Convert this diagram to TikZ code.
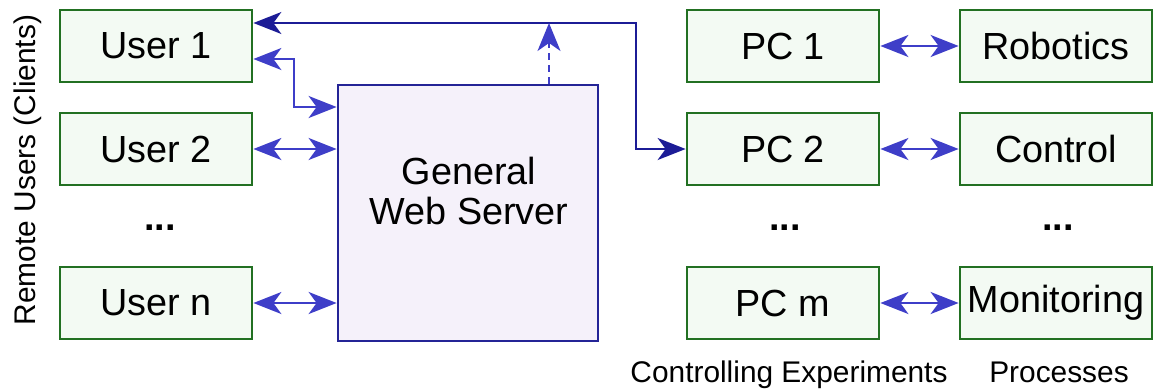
\documentclass[tikz,border=0pt]{standalone}
\usepackage{fontspec}
\setmainfont{Liberation Sans}
\usetikzlibrary{arrows.meta}
\definecolor{boxgreen}{RGB}{34,112,34}
\definecolor{boxfill}{RGB}{243,250,243}
\definecolor{srvblue}{RGB}{36,36,150}
\definecolor{srvfill}{RGB}{245,241,250}
\definecolor{linkblue}{RGB}{62,62,200}
\definecolor{mainblue}{RGB}{28,28,150}
\newcommand{\bxf}{\fontsize{21.5}{22.7}\selectfont}
\newcommand{\lbf}{\fontsize{17}{20}\selectfont}
\tikzset{
  unit/.style={draw=boxgreen,fill=boxfill,line width=1.6pt,minimum width=3.84cm,
               minimum height=1.44cm,inner sep=0pt,font=\bxf},
  server/.style={draw=srvblue,fill=srvfill,line width=1.6pt,minimum width=5.2cm,
                 minimum height=5.12cm,inner sep=0pt},
  dots/.style={font=\bxf\bfseries,anchor=base,inner sep=0pt},
  sidetext/.style={font=\lbf,anchor=base,inner sep=0pt},
  tip/.style={Stealth[length=0.56cm,width=0.44cm,inset=0.16cm]},
  link/.style={linkblue,line width=1.4pt,{Stealth[length=0.56cm,width=0.44cm,inset=0.16cm]}-{Stealth[length=0.56cm,width=0.44cm,inset=0.16cm]}},
  mainlink/.style={mainblue,line width=1.1pt,{Stealth[length=0.56cm,width=0.44cm,inset=0.16cm]}-{Stealth[length=0.56cm,width=0.44cm,inset=0.16cm]}},
  uplink/.style={linkblue,line width=1pt,dash pattern=on 4pt off 2.8pt,-{Stealth[length=0.56cm,width=0.46cm,inset=0.16cm]}}
}

\begin{document}
\begin{tikzpicture}[x=0.02cm,y=-0.02cm]
   \useasboundingbox (0,0) rectangle (1155,390);
   % clients
   \node[unit] (u1) at (156,46) {User 1};
   \node[unit] (u2) at (156,149) {User 2};
   \node[unit] (un) at (156,303) {User n};
   \node[dots] (ud) at (160,230) {...};
   \node[sidetext,rotate=90] (clients) at (35,170) {Remote Users (Clients)};
   % server
   \node[server] (srv) at (468,213) {};
   \node[font=\bxf,align=center,inner sep=0pt] (srvtxt) at (469,191) {General\\Web Server};
   % lab PCs
   \node[unit] (pc1) at (783,46) {PC 1};
   \node[unit] (pc2) at (783,149) {PC 2};
   \node[unit] (pcm) at (783,303) {PC m};
   \node[dots] (pcd) at (785,230) {...};
   % processes
   \node[unit] (rob) at (1056,46) {Robotics};
   \node[unit] (ctl) at (1056,149) {Control};
   \node[unit] (mon) at (1056,303) {Monitoring};
   \node[dots] (prd) at (1058,230) {...};
   \node[sidetext] (ctrl) at (789,382) {Controlling Experiments};
   \node[sidetext] (proc) at (1059,382) {Processes};
   % links
   \coordinate (bend) at (636,23);
   \coordinate (tap) at (549,23);
   \coordinate (k1) at (294,59);
   \coordinate (k2) at (294,107);
   \draw[mainlink] (bend -| u1.east) -- (bend) |- (pc2.west);
   \draw[uplink] (srv.north -| tap) -- (tap);
   \draw[link] (k1 -| u1.east) -- (k1) -- (k2) -- (k2 -| srv.west);
   \draw[link] (u2.east) -- (u2.east -| srv.west);
   \draw[link] (un.east) -- (un.east -| srv.west);
   \draw[link] (pc1) -- (rob);
   \draw[link] (pc2) -- (ctl);
   \draw[link] (pcm) -- (mon);
\end{tikzpicture}
\end{document}
